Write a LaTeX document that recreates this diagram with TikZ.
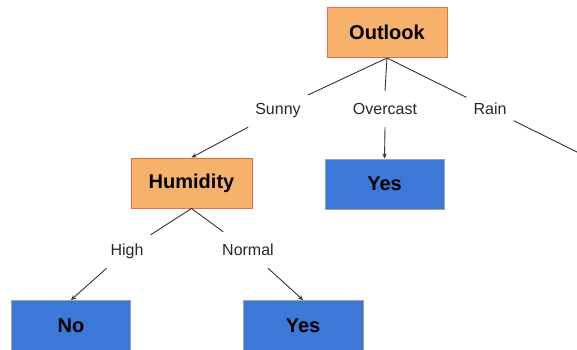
\documentclass[tikz,border=0pt]{standalone}
\usepackage{fontspec}
\setmainfont{Liberation Sans}
\usetikzlibrary{arrows.meta}
\definecolor{boxorange}{HTML}{F6B26B}
\definecolor{edgeorange}{HTML}{E2704E}
\definecolor{boxblue}{HTML}{3C78D8}
\definecolor{edgegray}{HTML}{A0A0A0}
\definecolor{linegray}{HTML}{333333}
\begin{document}
\begin{tikzpicture}[x=1pt,y=-1pt,
  attrbox/.style={draw=edgeorange,line width=1pt,fill=boxorange,minimum width=120pt,minimum height=50pt,inner sep=0pt,font=\fontsize{20}{24}\selectfont\bfseries},
  leafbox/.style={draw=edgegray,line width=1pt,fill=boxblue,minimum width=119pt,minimum height=50pt,inner sep=0pt,font=\fontsize{20}{24}\selectfont\bfseries},
  edgelabel/.style={rectangle,minimum height=36pt,inner ysep=0pt,inner xsep=7pt,text depth=0pt,font=\fontsize{16}{19}\selectfont,text=black!85},
  branch/.style={draw=linegray,line width=0.9pt},
  arr/.style={branch,-{Stealth[length=5pt,width=4.5pt]}}]
\useasboundingbox (0,0) rectangle (577,349);
\clip (0,0) rectangle (577,349);
\node[attrbox] (outlook) at (387,32.5) {Outlook};
\node[edgelabel] (sunny) at (278,109) {Sunny};
\node[edgelabel] (overcast) at (385,109) {Overcast};
\node[edgelabel] (rain) at (490,109) {Rain};
\node[attrbox,minimum width=121pt] (humidity) at (191.5,183) {Humidity};
\node[leafbox] (yes1) at (384.5,184) {Yes};
\node[edgelabel] (high) at (127,250) {High};
\node[edgelabel] (normal) at (248,250) {Normal};
\node[leafbox] (no) at (71,325.5) {No};
\node[leafbox,minimum width=120pt] (yes2) at (303,325.5) {Yes};
\coordinate (rainend) at (580,153.5);
\draw[branch] (outlook.south) -- (sunny);
\draw[branch] (outlook.south) -- (overcast.north);
\draw[branch] (outlook.south) -- (rain);
\draw[branch] (rain) -- (rainend);
\draw[arr] (sunny.south west) -- (humidity.north);
\draw[arr] (overcast.south) -- (yes1.north);
\draw[branch] (humidity.south) -- (high);
\draw[branch] (humidity.south) -- (normal);
\draw[arr] (high) -- (no.north);
\draw[arr] (normal) -- (yes2.north);
\end{tikzpicture}
\end{document}
